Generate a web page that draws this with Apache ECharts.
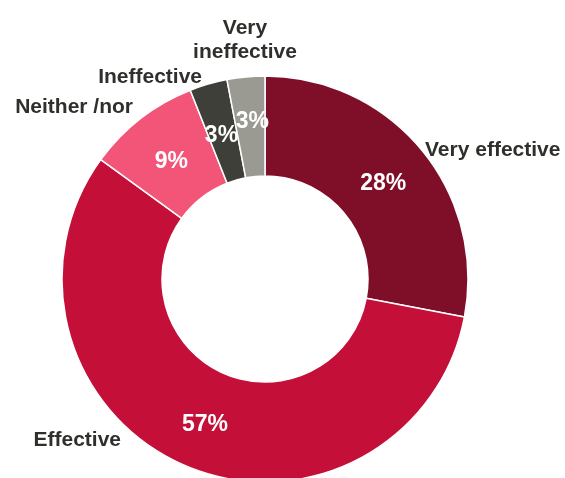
<!DOCTYPE html>
<html>
<head>
<meta charset="utf-8">
<script src="https://cdn.jsdelivr.net/npm/echarts@6/dist/echarts.min.js"></script>
<style>html,body{margin:0;padding:0;background:#fff}#c{width:565px;height:478px}</style>
</head>
<body>
<div id="c"></div>
<script>
const categories = ['Very effective', 'Effective', 'Neither /nor', 'Ineffective', 'Very\nineffective'];
const values = [28, 57, 9, 3, 3];
const colors = ['#7F0F28', '#C41039', '#F25578', '#3E3F39', '#9B9A92'];
// outside label anchor layout (x, y, align) — layout only
const labelLayoutPos = [
  [425, 150, 'left'],
  [121, 440, 'right'],
  [133, 107, 'right'],
  [202, 77, 'right'],
  [245, 40, 'center']
];
// small nudges for the percentage labels (dx, dy) — layout only
const pctNudge = [[-2, 4], [2, 2], [2, 6], [0, 6], [2, -2]];

const chart = echarts.init(document.getElementById('c'));
const data = categories.map((n, i) => ({ name: n, value: values[i], itemStyle: { color: colors[i] } }));
const common = {
  type: 'pie',
  center: [265, 279],
  radius: [103, 203],
  startAngle: 90,
  clockwise: true,
  avoidLabelOverlap: false,
  animation: false,
  itemStyle: { borderColor: '#fff', borderWidth: 1.5 },
  emphasis: { disabled: true }
};
chart.setOption({
  series: [
    Object.assign({}, common, {
      data: data,
      label: { show: false },
      labelLine: { show: false }
    }),
    Object.assign({}, common, {
      data: data.map(d => ({ name: d.name, value: d.value, itemStyle: { color: 'transparent', borderWidth: 0 } })),
      silent: true,
      label: {
        show: true,
        position: 'inside',
        formatter: p => p.value + '%',
        color: '#fff',
        fontFamily: 'Liberation Sans, Arial, sans-serif',
        fontWeight: 'bold',
        fontSize: 23
      },
      labelLine: { show: false },
      labelLayout: function (p) {
        const n = pctNudge[p.dataIndex];
        return { dx: n[0], dy: n[1], hideOverlap: false };
      }
    }),
    Object.assign({}, common, {
      data: data.map(d => ({ name: d.name, value: d.value, itemStyle: { color: 'transparent', borderWidth: 0 } })),
      silent: true,
      label: {
        show: true,
        position: 'outside',
        formatter: '{b}',
        color: '#2F302C',
        fontFamily: 'Liberation Sans, Arial, sans-serif',
        fontWeight: 'bold',
        fontSize: 21,
        lineHeight: 24
      },
      labelLine: { show: false },
      labelLayout: function (p) {
        const l = labelLayoutPos[p.dataIndex];
        return { x: l[0], y: l[1], align: l[2], verticalAlign: 'middle' };
      }
    })
  ]
});
</script>
</body>
</html>
